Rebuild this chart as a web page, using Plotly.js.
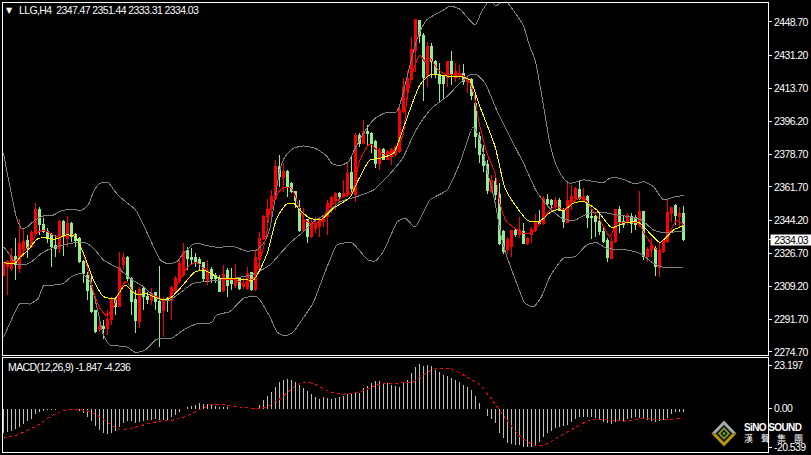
<!DOCTYPE html>
<html><head><meta charset="utf-8">
<script src="https://cdn.plot.ly/plotly-3.0.1.min.js"></script>
<style>html,body{margin:0;padding:0;background:#000;overflow:hidden}#c{width:811px;height:455px}
.ytick text,.y2tick text,.annotation-text{letter-spacing:-0.6px}
.js-line,.boxlayer path,.barlayer path{shape-rendering:crispEdges}
</style>
</head><body><div id="c"></div>
<script>
const opens=[2314.8,2319.7,2318.8,2325.3,2318.8,2328.5,2333.4,2330.2,2337.3,2349.6,
2341.7,2338.1,2336.4,2331.1,2329.4,2343.4,2334.6,2342.2,2336.4,2334.6,
2322.3,2314.8,2310.0,2296.5,2286.3,2288.0,2287.2,2291.6,2303.0,2298.9,
2320.6,2324.6,2313.5,2302.5,2290.7,2308.3,2303.9,2302.1,2306.0,2301.2,
2296.8,2302.5,2302.1,2307.7,2312.3,2315.3,2328.1,2324.6,2324.4,2323.2,
2321.8,2312.3,2318.3,2314.8,2313.5,2307.0,2317.6,2313.5,2309.5,2313.5,
2309.1,2308.3,2316.5,2307.4,2323.2,2334.6,2346.0,2350.4,2355.7,2372.4,
2366.8,2370.1,2363.6,2359.2,2350.4,2339.0,2344.3,2335.5,2339.9,2341.1,
2343.4,2346.1,2352.2,2354.8,2358.0,2356.6,2358.4,2369.3,2357.5,2389.1,
2384.7,2390.9,2390.0,2385.6,2374.2,2381.6,2376.3,2378.0,2378.6,2380.3,
2401.4,2412.8,2418.5,2433.9,2449.4,2441.8,2419.9,2435.7,2427.8,2420.8,
2419.9,2419.5,2427.8,2419.5,2419.9,2421.3,2417.2,2418.6,2405.8,2388.2,
2378.6,2373.3,2359.2,2364.5,2357.5,2338.1,2328.5,2330.2,2338.7,2336.9,
2338.1,2332.0,2336.4,2339.0,2343.4,2342.5,2355.2,2354.8,2351.3,2354.8,
2349.9,2342.9,2353.1,2355.7,2360.5,2354.5,2356.9,2346.0,2346.0,2343.4,
2338.1,2333.7,2324.1,2332.9,2349.6,2343.4,2343.4,2346.0,2345.7,2341.7,
2348.7,2325.0,2328.1,2329.4,2319.3,2327.6,2332.9,2347.8,2351.7,2346.0,2347.47];
const highs=[2322.3,2323.2,2329.4,2334.6,2344.6,2339.9,2336.4,2339.0,2353.1,2351.3,
2345.2,2339.9,2337.3,2336.4,2344.3,2344.3,2346.4,2343.4,2337.3,2335.2,
2323.2,2317.0,2315.3,2296.8,2293.3,2291.6,2296.8,2303.9,2303.9,2327.6,
2326.7,2325.3,2314.4,2307.4,2309.1,2309.5,2306.5,2308.3,2306.5,2320.0,
2303.9,2303.9,2309.5,2314.8,2323.5,2332.0,2330.2,2329.4,2326.7,2324.6,
2322.3,2323.2,2319.3,2316.2,2315.3,2320.6,2318.8,2318.8,2320.9,2314.4,
2313.5,2319.7,2317.0,2328.5,2338.1,2346.9,2355.2,2360.1,2375.9,2378.6,
2374.2,2370.7,2364.5,2359.8,2354.8,2350.4,2344.6,2345.2,2346.1,2345.2,
2346.9,2354.8,2356.9,2359.2,2359.2,2365.4,2374.2,2378.0,2390.0,2390.0,
2397.0,2394.4,2390.9,2386.5,2382.1,2382.1,2381.2,2382.1,2383.8,2404.9,
2419.0,2423.0,2441.0,2450.1,2449.8,2442.7,2438.3,2437.5,2428.7,2426.9,
2420.8,2428.1,2433.4,2426.9,2426.0,2426.6,2419.9,2419.0,2410.2,2390.9,
2383.8,2375.9,2368.0,2367.5,2363.6,2339.0,2335.5,2339.0,2339.9,2345.7,
2342.9,2335.5,2340.8,2347.5,2349.6,2356.9,2357.8,2355.2,2356.3,2355.7,
2350.4,2364.0,2362.7,2361.9,2365.4,2361.0,2357.5,2350.4,2346.9,2348.7,
2339.9,2334.6,2335.5,2349.9,2351.7,2346.9,2347.8,2347.8,2346.9,2359.6,
2349.2,2330.2,2334.6,2330.6,2332.3,2334.1,2355.2,2351.3,2352.6,2351.3,2351.44];
const lows=[2314.6,2304.7,2317.6,2312.7,2316.2,2325.0,2324.1,2329.4,2336.4,2336.4,
2337.3,2332.0,2319.7,2325.0,2326.7,2325.3,2330.2,2332.9,2330.2,2321.4,
2310.9,2302.1,2295.1,2284.5,2285.4,2281.4,2283.7,2288.9,2294.2,2298.6,
2317.9,2311.8,2294.2,2284.9,2287.2,2296.8,2300.0,2299.5,2296.8,2277.5,
2282.4,2296.0,2291.6,2305.6,2310.9,2314.4,2317.9,2320.6,2319.7,2317.9,
2311.8,2310.0,2311.2,2310.9,2306.5,2306.5,2303.5,2307.4,2308.3,2307.4,
2307.7,2307.4,2307.0,2307.0,2317.9,2333.7,2339.0,2346.1,2354.8,2361.9,
2359.2,2356.6,2358.4,2350.4,2338.1,2338.1,2332.0,2334.6,2337.3,2335.2,
2340.8,2336.4,2347.8,2349.6,2354.8,2356.3,2356.6,2358.4,2354.0,2383.0,
2384.4,2383.0,2379.5,2371.5,2370.7,2375.9,2375.9,2373.3,2377.7,2379.8,
2400.5,2407.6,2418.1,2422.5,2437.4,2407.2,2414.6,2419.0,2419.0,2406.2,
2408.4,2414.6,2415.5,2417.2,2418.1,2415.5,2411.1,2407.6,2382.1,2374.2,
2369.8,2358.0,2358.4,2354.8,2331.1,2326.4,2326.4,2325.0,2335.5,2334.6,
2331.6,2331.1,2332.0,2338.1,2341.7,2341.7,2352.2,2349.6,2349.6,2349.2,
2340.3,2342.5,2349.6,2354.8,2354.8,2354.0,2339.9,2334.3,2335.2,2336.4,
2332.0,2322.3,2323.6,2332.3,2337.3,2339.9,2341.7,2337.3,2339.0,2340.8,
2323.2,2322.3,2325.0,2314.8,2314.4,2326.7,2332.3,2343.4,2341.7,2340.8,2333.31];
const closes=[2320.6,2322.3,2324.8,2320.6,2332.0,2332.9,2329.4,2337.6,2349.6,2341.7,
2338.1,2334.6,2330.2,2329.4,2343.4,2335.5,2342.2,2335.5,2333.7,2322.3,
2316.2,2307.0,2295.9,2285.4,2288.0,2287.2,2291.9,2303.0,2298.6,2319.3,
2324.6,2313.5,2301.2,2291.2,2307.7,2303.9,2302.5,2305.3,2301.2,2295.6,
2301.8,2301.8,2308.8,2313.5,2321.1,2327.6,2324.1,2323.2,2322.3,2321.4,
2313.5,2317.6,2313.5,2313.5,2306.5,2315.3,2310.0,2310.9,2313.5,2308.3,
2310.9,2316.2,2307.4,2324.4,2334.6,2346.0,2349.9,2356.6,2372.4,2367.2,
2369.8,2361.9,2359.2,2354.8,2339.0,2344.3,2335.5,2341.7,2342.2,2344.3,
2346.1,2353.1,2356.2,2358.4,2356.6,2358.4,2368.9,2361.0,2389.1,2384.7,
2390.9,2390.0,2384.7,2374.2,2381.2,2376.3,2380.3,2381.6,2382.6,2402.0,
2414.3,2419.0,2434.3,2449.8,2441.8,2419.5,2435.7,2427.8,2420.8,2416.4,
2416.4,2427.8,2420.8,2422.5,2421.6,2417.2,2419.0,2409.7,2388.2,2378.6,
2372.8,2359.8,2365.0,2357.5,2332.0,2327.6,2334.1,2338.7,2336.4,2338.7,
2332.0,2334.3,2339.4,2343.4,2342.5,2355.7,2353.1,2352.6,2354.8,2349.6,
2343.4,2354.8,2356.9,2361.0,2355.7,2356.9,2345.7,2345.5,2343.4,2338.1,
2333.2,2324.4,2333.2,2349.6,2343.4,2341.7,2346.9,2342.2,2341.7,2348.7,
2325.0,2328.8,2330.6,2319.7,2327.6,2333.4,2348.5,2351.0,2346.9,2347.5,2334.03];

const upperIdx=[0,1.6,3.3,4.5,5.8,7.9,10,12.5,14.5,17.9,19.1,21.2,22.5,24.1,26.2,27.9,30,32.9,35,37.5,39.2,41.2,43.3,45,47.9,50.8,53.3,57.5,60.8,63.3,65,66.6,69.1,70.4,72.5,75,77.9,80.8,82,84.1,86.2,87.9,90,92.9,95.8,98.3,100.8,103.3,105.8,110,111.6,114.1,117.9,119.5,120.9,121.6,122.4,123.1,124.1,125.1,126.1,127.4,129.9,131.6,132.9,134.9,136.6,138.3,140,141.6,145,150,151.6,154.1,157.9,160,162.5,165,167.5,170];
const upperVal=[2379.4,2361.9,2345.2,2339.9,2340.4,2344.3,2346.4,2346.9,2349.2,2349.9,2349.0,2352.2,2359.2,2363.6,2364.0,2359.2,2354.8,2349.9,2341.7,2330.2,2323.2,2321.1,2322.3,2326.7,2332.0,2330.8,2329.9,2330.2,2327.9,2328.5,2332.0,2339.9,2370.7,2377.7,2382.1,2383.3,2382.1,2378.0,2374.2,2372.9,2375.0,2382.1,2390.0,2397.9,2401.1,2401.4,2419.0,2439.2,2449.8,2455.0,2457.1,2455.4,2447.1,2454.1,2458.7,2461,2458.7,2457.1,2458.7,2461,2458.7,2455.0,2447.1,2435.5,2428.7,2405.8,2384.7,2372.4,2366.3,2363.6,2365.4,2364.0,2366.3,2366.3,2363.3,2364.5,2361.9,2354.9,2356.3,2357.3];
const middleIdx=[0,1.6,2.9,5,7,9.5,12,15,17.9,20.4,22.5,25,28.7,31.6,35,38.3,41.6,44.5,47.5,52.5,57.5,62.5,66.6,70.4,72.5,75,77.5,80.8,84.1,88.3,92.5,97.5,100,102.5,105,107.5,110.8,114.1,116.6,118.3,120.4,123.3,126.6,130,133.3,136.6,140,142.9,146.2,150,153.3,156.6,159.5,162.5,165,170];
const middleVal=[2330.2,2325.8,2321.4,2320.6,2322.3,2326.7,2329.4,2331.1,2332.3,2332.3,2329.4,2323.2,2318.8,2313.5,2309.1,2303.0,2302.1,2306.5,2310.9,2312.3,2313.5,2315.8,2320.6,2329.4,2333.8,2338.1,2343.4,2347.8,2353.9,2356.6,2360.1,2370.7,2377.7,2389.1,2397.9,2404.1,2409.3,2416.4,2420.8,2420.8,2416.4,2402.3,2388.2,2374.2,2359.2,2350.4,2344.7,2344.3,2347.8,2348.3,2346.9,2346.0,2344.3,2339.0,2337.6,2338.5];
const lowerIdx=[0,1.6,4.1,6.6,8.7,10,12.5,15,17,19.5,21.6,23.7,25,26.6,30.8,32.9,35.4,38.3,42,45,48.3,52,53.3,56.6,60,63.3,66.6,68.4,70.4,72.4,74.6,77.4,79.9,81.6,83.4,87.1,91.1,92.9,94.9,97.4,98.4,100.4,102.9,106.6,110.9,114.1,117.4,119.1,120.9,122.9,124.6,125.9,128.3,130.4,132.5,134.5,136.6,140,142.9,145.8,148.3,150.8,155.8,159.1,162.5,165,170];
const lowerVal=[2282.4,2289.8,2300.3,2300.0,2303.0,2309.5,2310.0,2310.9,2314.4,2316.2,2311.8,2295.1,2283.7,2278.4,2277.5,2274.5,2275.7,2281.4,2281.9,2286.3,2289.5,2290.2,2294.2,2296.0,2303.0,2303.9,2293.2,2285.2,2283.1,2285.2,2291.6,2300.5,2314.2,2323.2,2331.1,2332.2,2323.2,2322.7,2327.4,2339.0,2343.2,2345.3,2340.6,2354.8,2360.1,2374.3,2393.3,2386.5,2370.7,2353.3,2333.8,2324.8,2310.9,2300.3,2298.6,2303.9,2314.4,2324.1,2325.0,2331.1,2332.3,2329.3,2328.5,2326.7,2321.4,2319.3,2319.3];
const fastIdx=[0,1.6,3.3,5.4,7,8.3,10,11.6,13.7,16.2,17.5,19.1,20.8,22.5,24.1,25.8,27.5,29.1,30.8,32,33.3,35.8,38.3,40,41.6,43.3,45,46.6,48.3,50,52.5,55,57.5,60,62.5,64.1,65.8,66.6,68.3,70,72,73.3,75,77,79.1,81.6,85,87,89.1,91.6,93.3,95.8,98.3,100,100.8,102.5,104.1,105.4,106.6,108.7,110.8,114.1,116.2,117.5,119.1,121.2,122.9,124.1,125.8,127.9,130,132,134.1,136.6,138.3,140,142.5,145,146.6,149.1,151.6,153.3,156.6,158.7,160.4,162.9,164.1,166.2,168.3,170];
const fastVal=[2321.4,2321.4,2323.2,2328.5,2332.0,2337.3,2339.0,2337.3,2335.2,2335.9,2336.4,2331.1,2320.6,2306.5,2297.7,2293.8,2298.6,2307.4,2312.1,2307.4,2305.3,2305.3,2303.9,2302.1,2303.9,2310.0,2316.2,2320.6,2321.8,2318.8,2315.3,2312.7,2313.0,2310.9,2313.5,2323.2,2337.3,2349.6,2357.5,2361.5,2361.0,2354.8,2345.2,2342.2,2343.4,2351.3,2356.6,2358.4,2375.9,2384.4,2381.2,2378.6,2382.1,2390.0,2407.6,2423.4,2431.3,2427.8,2429.5,2423.4,2420.8,2421.3,2418.1,2411.1,2393.5,2377.7,2368.9,2353.1,2343.4,2339.9,2337.3,2337.3,2342.6,2349.6,2351.7,2349.6,2354.0,2356.6,2351.3,2344.3,2335.5,2342.5,2342.9,2342.5,2336.4,2329.4,2327.6,2336.4,2343.9,2341.7];
const slowIdx=[0,2.9,4.1,6.2,8.3,10,12.9,15.8,17.9,20,22.5,25,27.9,30.4,32.9,35.8,39.1,41.6,44.5,47.9,50.4,54.1,58.3,62.5,64.5,66.2,68.3,70.8,72.5,74.5,76.6,79.5,82.5,86.6,88.7,91.6,94.1,97.5,99.5,101.6,104.1,106.6,110.8,114.1,116.6,119.1,122.9,125.4,127.9,131.2,134.1,136.6,138.3,140,142.5,145,148.3,152,155,158.7,161.6,164.1,167.5,170];
const slowVal=[2321.8,2321.4,2324.6,2328.5,2334.1,2335.0,2334.1,2336.4,2335.5,2326.7,2312.7,2303.9,2303.0,2310.0,2305.3,2305.3,2302.6,2303.0,2309.1,2317.0,2317.6,2313.5,2313.5,2312.7,2319.7,2328.5,2345.2,2352.7,2353.1,2348.7,2345.2,2344.7,2350.5,2356.2,2365.4,2375.9,2376.8,2379.5,2390.0,2402.3,2415.5,2420.8,2420.2,2419.9,2418.1,2404.1,2382.9,2361.0,2352.2,2343.8,2343.8,2348.2,2349.6,2349.2,2353.1,2354.0,2349.6,2340.3,2342.5,2343.1,2337.3,2332.5,2339.0,2341.3];

const macdHist=[-13.1,-12.4,-11.9,-11.0,-9.6,-8.2,-6.7,-5.3,-2.8,-1.8,
-1.1,-0.7,-0.7,-0.7,-0.4,-0.1,0,0,0,-1.1,
-2.1,-4.3,-6.4,-9.2,-11.3,-12.8,-13.5,-12.8,-11.9,-9.9,
-7.4,-6.7,-6.7,-7.4,-7.1,-6.4,-6.0,-6.0,-5.7,-6.0,
-6.0,-6.4,-4.3,-3.5,-1.8,0,0.7,1.4,2.0,2.8,
2.5,2.5,2.0,1.4,0.7,0.7,0.7,0,0,-0.2,
0,0,0,0,2.0,4.6,6.7,9.0,11.7,14.0,
15.2,15.8,15.2,14.4,12.6,11.2,9.4,7.8,6.4,5.0,
6.4,5.5,5.0,5.5,6.2,6.7,7.8,7.8,8.2,8.6,
11.2,12.2,13.9,14.7,14.7,13.9,13.5,12.6,12.2,11.7,
14.3,15.2,18.8,22.3,23.7,22.8,23.0,22.8,20.6,19.5,
17.9,17.4,16.1,15.2,14.0,12.6,11.3,10.0,6.7,3.2,
0,-3.7,-5.7,-7.8,-12.8,-15.8,-18.1,-18.8,-19.3,-19.3,
-20.2,-20.2,-20.2,-19.3,-17.6,-14.9,-13.1,-11.7,-10.5,-9.6,
-9.2,-8.9,-7.1,-5.5,-4.6,-4.3,-4.3,-4.3,-5.1,-5.7,
-6.9,-7.8,-8.2,-6.9,-6.0,-6.4,-5.7,-5.1,-4.3,-5.1,
-4.8,-6.0,-6.4,-6.9,-6.6,-6.0,-5.1,-2.8,-1.8,-1.6,-1.847];
const signalIdx=[0,3.3,6.2,9.1,11.6,15,19.1,21.6,24.1,26.6,29.1,32.5,35.8,39.1,42.5,45.8,49.2,52.5,55.8,59.2,63.3,65.8,69.2,72.5,74.2,77.5,80.8,84.1,87.5,90.8,94.2,97.5,102.5,105.8,108.3,111.7,115.8,119.2,122.5,125.8,129.2,132.5,135,138.3,142.5,146.7,150,155,160.8,164.2,169.2];
const signalVal=[-15.7,-14.0,-11.3,-8.2,-4.3,-1.1,-0.4,-1.6,-4.3,-8.2,-11.0,-10.1,-8.2,-6.6,-6.0,-3.9,-0.4,2.3,2.0,0.7,0.2,0.7,5.5,11.3,13.5,13.5,9.6,7.8,8.2,10.3,13.2,13.5,14.4,19.1,21.4,21.4,17.0,12.6,3.7,-6.0,-14.9,-19.3,-19.3,-15.7,-10.5,-6.0,-5.7,-6.6,-5.1,-6.0,-5.1];

const priceTicks=[2448.70,2431.20,2413.70,2396.20,2378.70,2361.70,2344.20,2326.70,2309.20,2291.70,2274.70];
const macdTicks=[23.197,0,-20.539];
const macdTickText=['23.197','0.00','-20.539'];
const logoChars=['漢','聲','集','團'];
const lastPrice=closes[closes.length-1];
const barIdx=closes.map((_,i)=>i);

const W=811,H=455,px=x=>x/W,py=y=>1-y/H;
const tickFont={family:'"Liberation Sans",sans-serif',size:10.5,color:'#fff'};
const line=(x,y,color)=>({type:'scatter',mode:'lines',x,y,xaxis:'x',yaxis:'y',hoverinfo:'skip',
  line:{color,width:1,shape:'spline',smoothing:0.6}});
const traces=[
 line(upperIdx,upperVal,'#808080'),line(middleIdx,middleVal,'#808080'),line(lowerIdx,lowerVal,'#808080'),
 {type:'candlestick',x:barIdx,open:opens,high:highs,low:lows,close:closes,xaxis:'x',yaxis:'y',hoverinfo:'skip',whiskerwidth:0,
  increasing:{line:{color:'#ff0000',width:1},fillcolor:'#ff0000'},
  decreasing:{line:{color:'#90ee90',width:1},fillcolor:'#90ee90'}},
 line(fastIdx,fastVal,'#ff0000'),line(slowIdx,slowVal,'#ffff00'),
 {type:'bar',x:barIdx,y:macdHist,width:0.25,xaxis:'x2',yaxis:'y2',hoverinfo:'skip',marker:{color:'#c0c0c0',line:{width:0}}},
 {type:'scatter',mode:'lines',x:signalIdx,y:signalVal,xaxis:'x2',yaxis:'y2',hoverinfo:'skip',
  line:{color:'#ff0000',width:1,dash:'3px,3px',shape:'spline',smoothing:0.6}}
];
const xBase={domain:[px(3),px(768)],range:[-0.125,191.125],showticklabels:false,ticks:'',showgrid:false,zeroline:false,
  showline:true,linecolor:'#fff',linewidth:1,mirror:true,fixedrange:true};
const yBase={side:'right',showgrid:false,zeroline:false,showline:true,linecolor:'#fff',linewidth:1,mirror:true,
  ticks:'outside',ticklen:3,tickcolor:'#fff',tickwidth:1,tickfont:tickFont,tickmode:'array',fixedrange:true};
const diamond=(r,col,half)=>{const c=[724,433.5],rx=r,ry=r*1.04;
  const pts=half==='top'?[[c[0]-rx,c[1]],[c[0],c[1]-ry],[c[0]+rx,c[1]]]:half==='bottom'?[[c[0]-rx,c[1]],[c[0],c[1]+ry],[c[0]+rx,c[1]]]:
    [[c[0]-rx,c[1]],[c[0],c[1]-ry],[c[0]+rx,c[1]],[c[0],c[1]+ry]];
  return {type:'path',xref:'paper',yref:'paper',layer:'above',fillcolor:col,line:{width:0},
    path:'M'+pts.map(p=>px(p[0])+','+py(p[1])).join('L')+'Z'};};
const uiFont={family:'"Liberation Sans",sans-serif',size:10.5,color:'#fff'};
const note=(x,y,text,font,extra)=>Object.assign({xref:'paper',yref:'paper',x:px(x),y:py(y),text,showarrow:false,xanchor:'left',yanchor:'middle',font:font||uiFont,borderpad:0},extra||{});
const layout={width:W,height:H,autosize:false,margin:{l:0,r:0,t:0,b:0},paper_bgcolor:'#000',plot_bgcolor:'#000',showlegend:false,
 bargap:0,boxgap:0.5,hovermode:false,dragmode:false,
 xaxis:Object.assign({},xBase,{anchor:'y',rangeslider:{visible:false}}),
 xaxis2:Object.assign({},xBase,{anchor:'y2'}),
 yaxis:Object.assign({},yBase,{anchor:'x',domain:[py(355),py(3)],range:[2273.1,2458.7],
   tickvals:priceTicks.concat([lastPrice]),ticktext:priceTicks.map(v=>v.toFixed(2)).concat([''])}),
 yaxis2:Object.assign({},yBase,{anchor:'x2',domain:[py(452),py(358)],range:[-23.03,26.97],tickvals:macdTicks,ticktext:macdTickText}),
 shapes:[diamond(12.5,'#a8a8a8','top'),diamond(12.5,'#b8960f','bottom'),diamond(8.5,'#1a1a1a'),diamond(6,'#7d9a1e'),diamond(3.5,'#111'),diamond(1.5,'#8fbf30')],
 annotations:[
  note(5,10,'▼',{family:'"DejaVu Sans",sans-serif',size:8,color:'#fff'}),
  note(18,10,'LLG,H4&nbsp;&nbsp;2347.47 2351.44 2333.31 2334.03'),
  note(7,367,'MACD(12,26,9) -1.847 -4.236'),
  note(770,240,'2334.03',{family:tickFont.family,size:10.5,color:'#000'},{bgcolor:'#fff',width:41,height:10,align:'center',xanchor:'left'}),
  note(743,427.5,'<b>SiNO SOUND</b>',{family:'"Liberation Sans",sans-serif',size:10,color:'#fff'}),
 ].concat(logoChars.map((c,i)=>note(743+16.5*i,438.5,c,{family:'"Noto Sans CJK TC",sans-serif',size:9,color:'#fff'})))};
Plotly.newPlot('c',traces,layout,{staticPlot:true,displayModeBar:false});
</script></body></html>
